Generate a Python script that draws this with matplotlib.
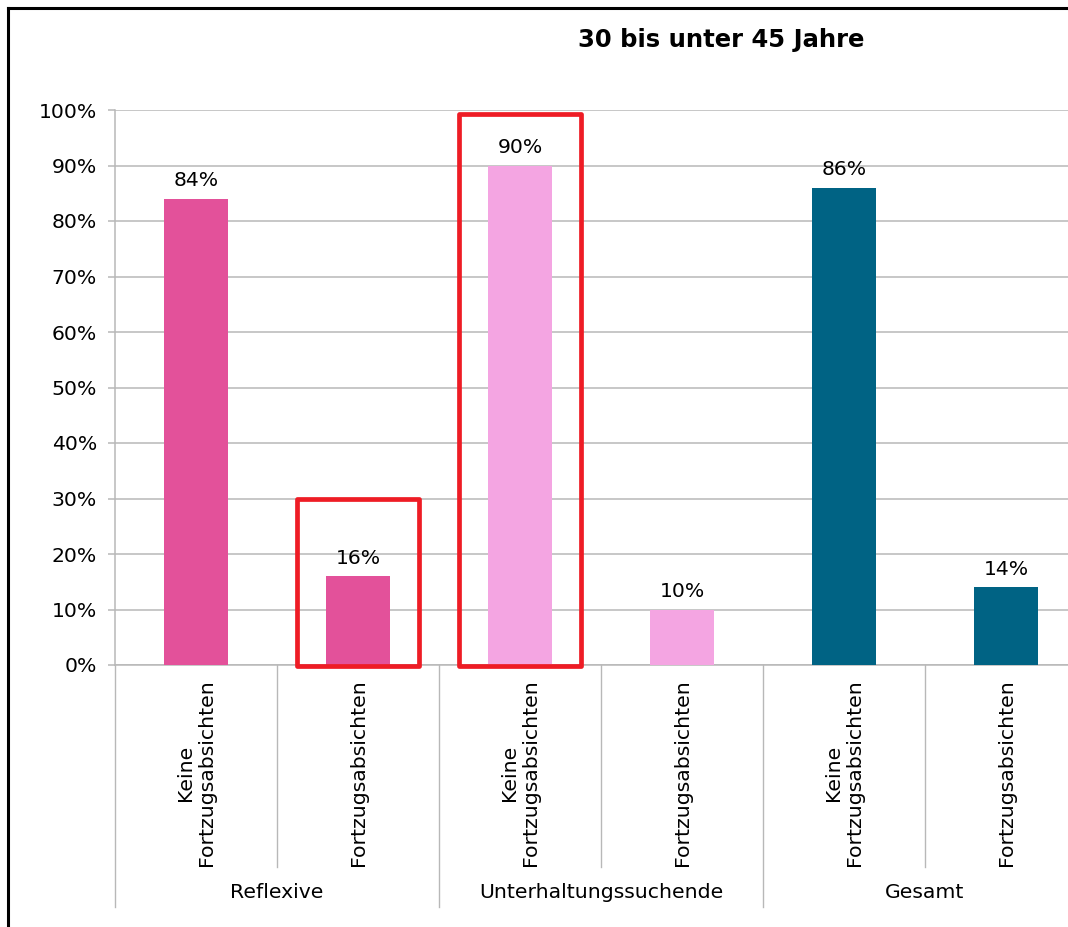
import numpy as np
import matplotlib
matplotlib.use('Agg')
import matplotlib.pyplot as plt
from matplotlib.patches import Rectangle
from matplotlib.lines import Line2D

# Data
title = '30 bis unter 45 Jahre'
groups = ['Reflexive', 'Unterhaltungssuchende', 'Gesamt']
categories = ['Keine\nFortzugsabsichten', 'Fortzugsabsichten'] * 3
values = [84, 16, 90, 10, 86, 14]
colors = ['#E3519A', '#E3519A', '#F4A5E2', '#F4A5E2', '#006384', '#006384']
highlight_idx = [1, 2]
highlight_top = [30, 99.3]

W, H = 1068, 927
fig = plt.figure(figsize=(W / 100, H / 100), dpi=100)
fig.patch.set_facecolor('white')

# axes: x=0 at px 115, each category 162 px wide (last one clipped by the figure edge)
ax = fig.add_axes([115 / W, (H - 665) / H, 972 / W, 555 / H])
x = np.arange(len(values)) + 0.5
ax.bar(x, values, width=0.39, color=colors, zorder=3)
ax.set_xlim(0, 6)
ax.set_ylim(0, 100)

fs = 14.7
grid_c = '#B8B8B8'
ax.set_yticks(np.arange(0, 101, 10))
ax.set_yticklabels([f'{v}%' for v in range(0, 101, 10)], fontsize=fs)
ax.yaxis.grid(True, color=grid_c, linewidth=1.1, zorder=0)
ax.tick_params(axis='y', length=5, width=1.1, color=grid_c, pad=8)
ax.set_xticks([])
for s in ['top', 'right']:
    ax.spines[s].set_visible(False)
ax.spines['left'].set_color(grid_c)
ax.spines['bottom'].set_color(grid_c)
ax.spines['left'].set_linewidth(1.1)
ax.spines['bottom'].set_linewidth(1.1)

# value labels
for xi, v in zip(x, values):
    ax.annotate(f'{v}%', (xi, v), xytext=(0, 6), textcoords='offset points',
                ha='center', va='bottom', fontsize=fs, zorder=4)

# category labels and separators below the axis
trans = ax.get_xaxis_transform()
for xi, lab in zip(x, categories):
    ax.text(xi, -0.026, lab, transform=trans, rotation=90, ha='center', va='top',
            multialignment='center', fontsize=fs, linespacing=1.15)
for b in range(7):
    depth = -0.436 if b % 2 == 0 else -0.364
    ax.add_line(Line2D([b, b], [0, depth], transform=trans, color=grid_c,
                       linewidth=1.0, clip_on=False))
for g, name in enumerate(groups):
    ax.text(2 * g + 1, -0.410, name, transform=trans, ha='center', va='center',
            fontsize=fs)

# red highlight boxes
for i, top in zip(highlight_idx, highlight_top):
    ax.add_patch(Rectangle((i + 0.5 - 0.377, -0.15), 0.754, top + 0.15,
                           fill=False, edgecolor='#EE1C25', linewidth=3.4,
                           joinstyle='round', clip_on=False, zorder=5))

fig.text(721 / W, 1 - 40 / H, title, ha='center', va='center',
         fontsize=17.5, fontweight='bold')

# outer frame (top and left edges visible)
fig.add_artist(Line2D([8 / W, 1.0], [1 - 8 / H, 1 - 8 / H], color='black', linewidth=2.2))
fig.add_artist(Line2D([8 / W, 8 / W], [0.0, 1 - 8 / H], color='black', linewidth=2.2))

fig.savefig('out.png', dpi=100)
